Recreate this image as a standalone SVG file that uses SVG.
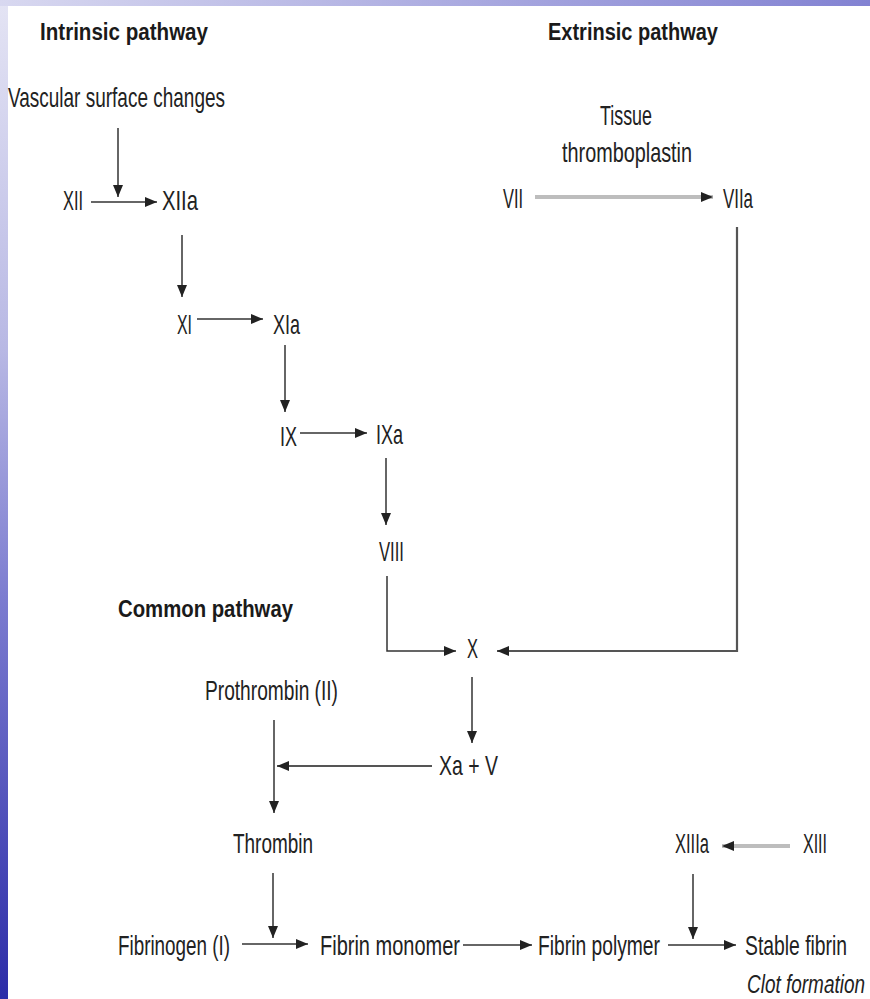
<svg xmlns="http://www.w3.org/2000/svg" width="870" height="999" viewBox="0 0 870 999">
<defs>
<linearGradient id="lg" x1="0" y1="0" x2="0" y2="1">
<stop offset="0" stop-color="#e4e4f4"/>
<stop offset="0.35" stop-color="#b8b8e4"/>
<stop offset="0.6" stop-color="#7c7cd0"/>
<stop offset="1" stop-color="#2c2ca8"/>
</linearGradient>
<linearGradient id="tg" x1="0" y1="0" x2="1" y2="0">
<stop offset="0" stop-color="#d8d8f0"/>
<stop offset="1" stop-color="#8282d2"/>
</linearGradient>
<marker id="ah" markerUnits="userSpaceOnUse" markerWidth="14" markerHeight="12" refX="12" refY="5" orient="auto">
<path d="M0,0 L12,5 L0,10 Z" fill="#222"/>
</marker>
</defs>
<style>
.t{font-family:"Liberation Sans",Arial,sans-serif;font-size:28px;fill:#222}
.b{font-family:"Liberation Sans",Arial,sans-serif;font-size:23px;font-weight:bold;fill:#1a1a1a}
.s{font-family:"Liberation Sans",Arial,sans-serif;font-size:23px;fill:#222}
.i{font-family:"Liberation Sans",Arial,sans-serif;font-size:19px;font-style:italic;fill:#222}
.c{fill:none;stroke:#333;stroke-width:1.5;marker-end:url(#ah)}
.g{fill:none;stroke:#555;stroke-width:2.2;marker-end:url(#ah)}
.l{fill:none;stroke:#bdbdbd;stroke-width:4;marker-end:url(#ah)}
</style>
<rect x="0" y="0" width="870" height="999" fill="#fff"/>
<rect x="0" y="0" width="8" height="999" fill="url(#lg)"/>
<rect x="0" y="0" width="870" height="6" fill="url(#tg)"/>

<g id="titles">
<text class="b" x="40" y="40" textLength="168" lengthAdjust="spacingAndGlyphs">Intrinsic pathway</text>
<text class="b" x="548" y="40" textLength="170" lengthAdjust="spacingAndGlyphs">Extrinsic pathway</text>
<text class="b" x="118" y="617" textLength="175" lengthAdjust="spacingAndGlyphs">Common pathway</text>
</g>
<g id="n-vascular"><text class="t" x="8" y="107" textLength="217" lengthAdjust="spacingAndGlyphs">Vascular surface changes</text></g>
<g id="n-xii"><text class="t" x="63" y="210" textLength="20" lengthAdjust="spacingAndGlyphs">XII</text></g>
<g id="n-xiia"><text class="t" x="162" y="210" textLength="36" lengthAdjust="spacingAndGlyphs">XIIa</text></g>
<g id="n-xi"><text class="t" x="177" y="334" textLength="15" lengthAdjust="spacingAndGlyphs">XI</text></g>
<g id="n-xia"><text class="t" x="273" y="334" textLength="27" lengthAdjust="spacingAndGlyphs">XIa</text></g>
<g id="n-ix"><text class="t" x="280" y="446" textLength="17" lengthAdjust="spacingAndGlyphs">IX</text></g>
<g id="n-ixa"><text class="t" x="376" y="444" textLength="27" lengthAdjust="spacingAndGlyphs">IXa</text></g>
<g id="n-viii"><text class="t" x="379" y="561" textLength="25" lengthAdjust="spacingAndGlyphs">VIII</text></g>
<g id="n-tissue"><text class="t" x="600" y="125" textLength="52" lengthAdjust="spacingAndGlyphs">Tissue</text>
<text class="t" x="562" y="162" textLength="130" lengthAdjust="spacingAndGlyphs">thromboplastin</text></g>
<g id="n-vii"><text class="t" x="503" y="208" textLength="20" lengthAdjust="spacingAndGlyphs">VII</text></g>
<g id="n-viia"><text class="t" x="723" y="208" textLength="30" lengthAdjust="spacingAndGlyphs">VIIa</text></g>
<g id="n-x"><text class="t" x="467" y="658" textLength="11" lengthAdjust="spacingAndGlyphs">X</text></g>
<g id="n-xav"><text class="t" x="439" y="775" textLength="59" lengthAdjust="spacingAndGlyphs">Xa + V</text></g>
<g id="n-prothrombin"><text class="t" x="205" y="700" textLength="133" lengthAdjust="spacingAndGlyphs">Prothrombin (II)</text></g>
<g id="n-thrombin"><text class="t" x="233" y="853" textLength="80" lengthAdjust="spacingAndGlyphs">Thrombin</text></g>
<g id="n-xiiia"><text class="t" x="675" y="853" textLength="34" lengthAdjust="spacingAndGlyphs">XIIIa</text></g>
<g id="n-xiii"><text class="t" x="803" y="853" textLength="24" lengthAdjust="spacingAndGlyphs">XIII</text></g>
<g id="n-fibrinogen"><text class="t" x="118" y="955" textLength="112" lengthAdjust="spacingAndGlyphs">Fibrinogen (I)</text></g>
<g id="n-monomer"><text class="t" x="320" y="955" textLength="140" lengthAdjust="spacingAndGlyphs">Fibrin monomer</text></g>
<g id="n-polymer"><text class="t" x="538" y="955" textLength="122" lengthAdjust="spacingAndGlyphs">Fibrin polymer</text></g>
<g id="n-stable">
<text class="s" transform="translate(745,955) scale(1,1.22)" x="0" y="0" textLength="102" lengthAdjust="spacingAndGlyphs">Stable fibrin</text>
<text class="i" transform="translate(747,993) scale(1,1.35)" x="0" y="0" textLength="118" lengthAdjust="spacingAndGlyphs">Clot formation</text>
</g>

<g id="connectors">
<path class="c" d="M118,128 V197"/>
<path class="c" d="M91,202 H157"/>
<path class="c" d="M182,235 V297"/>
<path class="c" d="M197,319 H263"/>
<path class="c" d="M285,345 V412"/>
<path class="c" d="M300,433 H367"/>
<path class="c" d="M386,458 V525"/>
<path class="c" d="M387,576 V651 H456"/>
<path class="l" d="M535,197 H713"/>
<path class="g" d="M737,227 V651 H497"/>
<path class="c" d="M472,677 V743"/>
<path class="g" d="M432,766 H277"/>
<path class="c" d="M274,720 V813"/>
<path class="c" d="M273,873 V938"/>
<path class="c" d="M242,944 H308"/>
<path class="c" d="M463,945 H532"/>
<path class="c" d="M668,945 H736"/>
<path class="c" d="M693,874 V939"/>
<path class="l" d="M790,846 H722"/>
</g>
</svg>
